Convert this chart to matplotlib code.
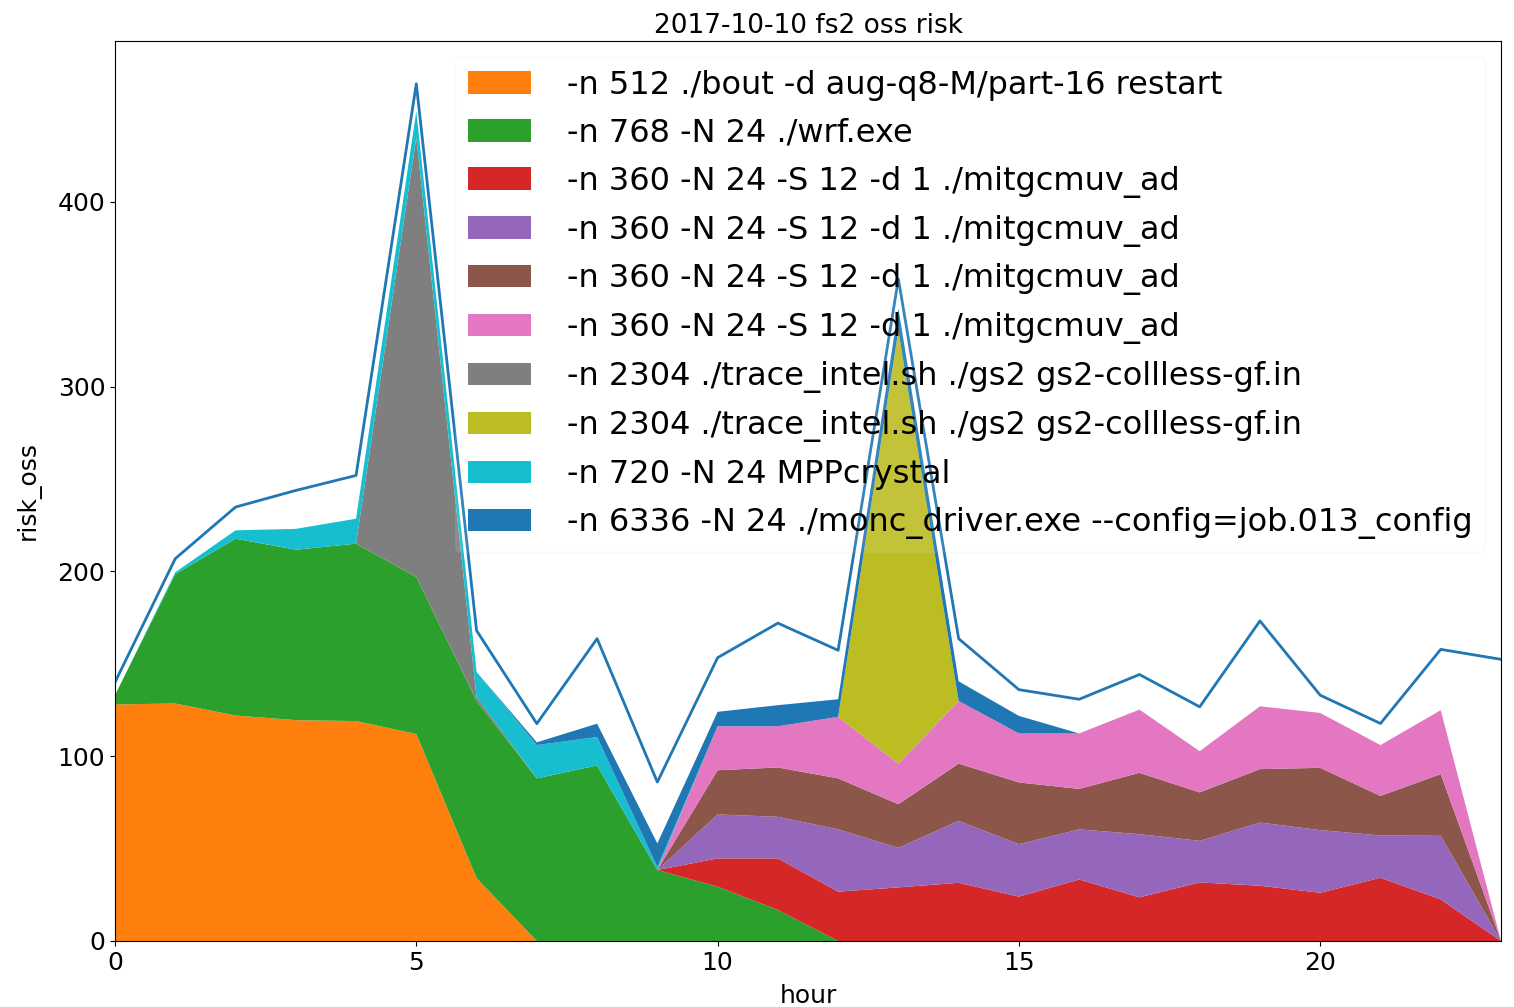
"""Hourly oss risk for fs2, stacked per job, with the total risk line on top."""

import matplotlib

matplotlib.use("Agg")
import matplotlib.pyplot as plt
import numpy as np

hours = list(range(24))

job_labels = [
    "-n 512 ./bout -d aug-q8-M/part-16 restart",
    "-n 768 -N 24 ./wrf.exe",
    "-n 360 -N 24 -S 12 -d 1 ./mitgcmuv_ad",
    "-n 360 -N 24 -S 12 -d 1 ./mitgcmuv_ad",
    "-n 360 -N 24 -S 12 -d 1 ./mitgcmuv_ad",
    "-n 360 -N 24 -S 12 -d 1 ./mitgcmuv_ad",
    "-n 2304 ./trace_intel.sh ./gs2 gs2-collless-gf.in",
    "-n 2304 ./trace_intel.sh ./gs2 gs2-collless-gf.in",
    "-n 720 -N 24 MPPcrystal",
    "-n 6336 -N 24 ./monc_driver.exe --config=job.013_config",
]

# per-job risk, hours 0..23
bout = [128, 128.5, 122, 119.5, 119, 112, 34, 0, 0, 0, 0, 0,
        0, 0, 0, 0, 0, 0, 0, 0, 0, 0, 0, 0]
wrf = [5, 70, 95.7, 92.2, 96, 85, 96, 88, 95, 38.4, 29.4, 16.8,
       0, 0, 0, 0, 0, 0, 0, 0, 0, 0, 0, 0]
mitgcm_a = [0, 0, 0, 0, 0, 0, 0, 0, 0, 0, 15.3, 27.9,
            26.7, 29, 31.5, 24, 33.3, 23.6, 31.7, 29.9, 26.1, 34.2, 22.5, 0]
mitgcm_b = [0, 0, 0, 0, 0, 0, 0, 0, 0, 0, 23.8, 22.5,
            33.7, 21.4, 33.5, 28.4, 27.1, 34.2, 22.5, 34.2, 33.9, 22.9, 34.4, 0]
mitgcm_c = [0, 0, 0, 0, 0, 0, 0, 0, 0, 0, 23.9, 26.7,
            27.6, 23.6, 31, 33.4, 21.9, 33.2, 26.2, 28.9, 33.7, 21.4, 33.4, 0]
mitgcm_d = [0, 0, 0, 0, 0, 0, 0, 0, 0, 0, 23.8, 22.3,
            33.3, 22, 33.9, 26.5, 30, 34.2, 22.3, 34, 29.7, 27.5, 34.6, 0]
gs2_a = [0, 0, 0, 0, 0, 237.7, 2, 0, 0, 0, 0, 0,
         0, 0, 0, 0, 0, 0, 0, 0, 0, 0, 0, 0]
gs2_b = [0, 0, 0, 0, 0, 0, 0, 0, 0, 0, 0, 0,
         0, 234.3, 0, 0, 0, 0, 0, 0, 0, 0, 0, 0]
mppcrystal = [0, 1, 4.5, 11.3, 13.5, 14.3, 13.6, 18, 15.4, 1.6, 0, 0,
              0, 0, 0, 0, 0, 0, 0, 0, 0, 0, 0, 0]
monc = [0, 0, 0, 0, 0, 0, 0, 1.5, 7.2, 12.8, 7.8, 11.4,
        9.5, 12, 10.6, 9.5, 0, 0, 0, 0, 0, 0, 0, 0]

# total oss risk over all jobs
total_risk = [140, 206.9, 234.8, 243.8, 251.9, 463.8, 168, 117.6, 163.6, 86, 153.3, 172,
              157.3, 358.2, 163.6, 136, 130.8, 144.2, 126.7, 173.2, 133, 117.7, 157.8, 152.4]

layers = [bout, wrf, mitgcm_a, mitgcm_b, mitgcm_c, mitgcm_d,
          gs2_a, gs2_b, mppcrystal, monc]

fig = plt.figure(figsize=(15.14, 10.07), dpi=100)
ax = fig.add_axes([115 / 1514, 66 / 1007, 1386 / 1514, 900 / 1007])

# total line first so it takes C0, the stack then cycles C1..C9, C0
ax.plot(hours, total_risk, color="C0", linewidth=2)
colors = [f"C{i}" for i in range(1, 10)] + ["C0"]
ax.stackplot(hours, np.array(layers), labels=job_labels, colors=colors)

ax.set_xlim(0, 23)
ax.set_ylim(bottom=0)
ax.set_title("2017-10-10 fs2 oss risk", fontsize=19)
ax.set_xlabel("hour", fontsize=18, labelpad=7)
ax.set_ylabel("risk_oss", fontsize=18, labelpad=12)
ax.tick_params(labelsize=18)
ax.legend(loc="upper right", fontsize=23, handletextpad=1.1,
          labelspacing=0.53, framealpha=0.1)

fig.savefig("out.png", dpi=100)
